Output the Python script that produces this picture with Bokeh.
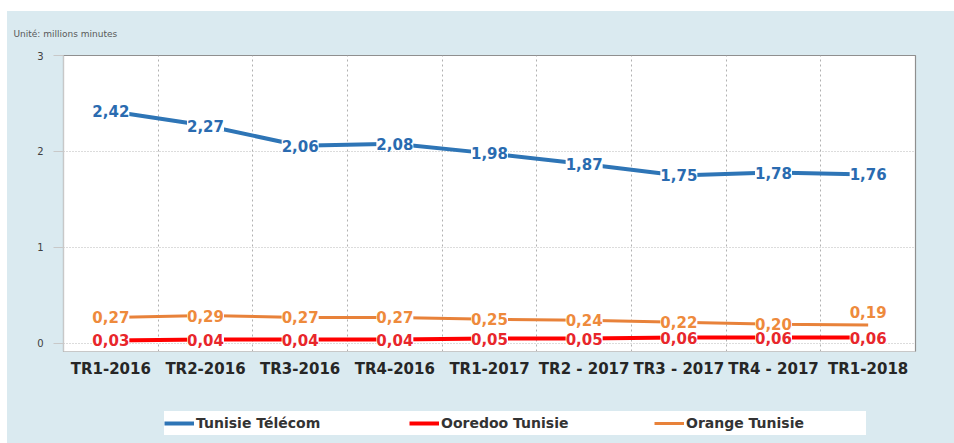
from bokeh.plotting import figure
from bokeh.layouts import column
from bokeh.models import (ColumnDataSource, LabelSet, Legend, LegendItem,
                          FixedTicker, Range1d)
from bokeh.core.properties import value
from bokeh.embed import file_html
from bokeh.resources import INLINE

# ---- data ----
categories = ["TR1-2016", "TR2-2016", "TR3-2016", "TR4-2016", "TR1-2017",
              "TR2 - 2017", "TR3 - 2017", "TR4 - 2017", "TR1-2018"]
tunisie_telecom = [2.42, 2.27, 2.06, 2.08, 1.98, 1.87, 1.75, 1.78, 1.76]
ooredoo_tunisie = [0.03, 0.04, 0.04, 0.04, 0.05, 0.05, 0.06, 0.06, 0.06]
orange_tunisie = [0.27, 0.29, 0.27, 0.27, 0.25, 0.24, 0.22, 0.20, 0.19]
series_names = ["Tunisie Télécom", "Ooredoo Tunisie", "Orange Tunisie"]
y_ticks = [0, 1, 2, 3]
unit_text = "Unité: millions minutes"

# ---- styles ----
BG = "#DAEAF0"
line_colors = ["#2E75B6", "#FF0000", "#E8823A"]
label_colors = ["#2A6BB0", "#E8262B", "#EE8A3C"]
line_widths = [4, 4, 3]
FONT = "DejaVu Sans"

xs = list(range(len(categories)))
all_series = [tunisie_telecom, ooredoo_tunisie, orange_tunisie]

p = figure(width=947, height=369,
           output_backend="svg", toolbar_location=None,
           x_range=Range1d(-0.5, len(categories) - 0.5),
           y_range=Range1d(-0.085, 3),
           min_border_left=56, min_border_right=39, min_border_top=44,
           min_border_bottom=28, styles={"background-color": BG})
p.background_fill_color = "white"
p.border_fill_color = BG
p.outline_line_color = "#8f8f8f"
p.outline_line_width = 1.2

# unit note as title
p.title.text = unit_text
p.title.align = "left"
p.title.vertical_align = "top"
p.title.offset = -50
p.title.standoff = 30
p.title.text_font = FONT
p.title.text_font_size = "9px"
p.title.text_font_style = "normal"
p.title.text_color = "#595959"

# axes
p.xaxis.ticker = FixedTicker(ticks=xs)
p.xaxis.major_label_overrides = {i: c for i, c in zip(xs, categories)}
p.xaxis.major_tick_line_color = None
p.xaxis.minor_tick_line_color = None
p.xaxis.axis_line_color = "#c8c8c8"
p.xaxis.major_label_text_font = FONT
p.xaxis.major_label_text_font_style = "bold"
p.xaxis.major_label_text_font_size = "15px"
p.xaxis.major_label_text_color = "#262626"
p.xaxis.major_label_standoff = 2

p.yaxis.ticker = FixedTicker(ticks=y_ticks)
p.yaxis.axis_line_color = "#c8c8c8"
p.yaxis.major_tick_line_color = "#c8c8c8"
p.yaxis.major_tick_out = 10
p.yaxis.major_tick_in = 0
p.yaxis.minor_tick_line_color = None
p.yaxis.major_label_text_font = FONT
p.yaxis.major_label_text_font_size = "10px"
p.yaxis.major_label_text_color = "#404040"
p.yaxis.major_label_standoff = 10

# grids
p.ygrid.ticker = FixedTicker(ticks=y_ticks)
p.ygrid.grid_line_color = "#b8b8b8"
p.ygrid.grid_line_dash = "1 2"
p.xgrid.ticker = FixedTicker(ticks=[i + 0.5 for i in xs[:-1]])
p.xgrid.grid_line_color = "#b0b0b0"
p.xgrid.grid_line_dash = "2 3"

# lines + labels
for k, vals in enumerate(all_series):
    offs = [0] * len(vals)
    if k == 2:
        offs[-1] = 13
    src = ColumnDataSource(dict(
        x=xs, y=vals,
        txt=[f"{v:.2f}".replace(".", ",") for v in vals],
        yo=offs))
    p.line("x", "y", source=src, line_color=line_colors[k],
           line_width=line_widths[k])
    ls = LabelSet(x="x", y="y", text="txt", source=src, y_offset="yo",
                  text_align="center", text_baseline="middle",
                  text_font=value(FONT), text_font_style="bold",
                  text_font_size="15px", text_color=label_colors[k],
                  background_fill_color="white", background_fill_alpha=1.0)
    p.add_layout(ls)

# ---- legend strip (separate figure, series drawn outside its view) ----
lg = figure(width=947, height=63, output_backend="svg", toolbar_location=None,
            x_range=Range1d(-0.5, len(categories) - 0.5),
            y_range=Range1d(10, 11),
            min_border_left=0, min_border_right=0, min_border_top=0,
            min_border_bottom=0, styles={"background-color": BG})
lg.axis.visible = False
lg.grid.visible = False
lg.background_fill_color = BG
lg.border_fill_color = BG
lg.outline_line_color = None
leg_renderers = [lg.line(xs, vals, line_color=line_colors[k],
                         line_width=line_widths[k])
                 for k, vals in enumerate(all_series)]
items = [LegendItem(label=n, renderers=[r])
         for n, r in zip(series_names, leg_renderers)]
legend = Legend(items=items, orientation="horizontal", location=(101, 8),
                margin=0,
                background_fill_color="white", background_fill_alpha=1.0,
                border_line_color=None, padding=6, spacing=33,
                glyph_width=30, glyph_height=24, label_height=24,
                label_width=180, label_standoff=2,
                label_text_font=FONT, label_text_font_style="bold",
                label_text_font_size="14px", label_text_color="#333333")
lg.add_layout(legend)

layout = column(p, lg, margin=(11, 0, 0, 7), spacing=0,
                styles={"background-color": BG})

open("out.html", "w").write(file_html(layout, INLINE))
